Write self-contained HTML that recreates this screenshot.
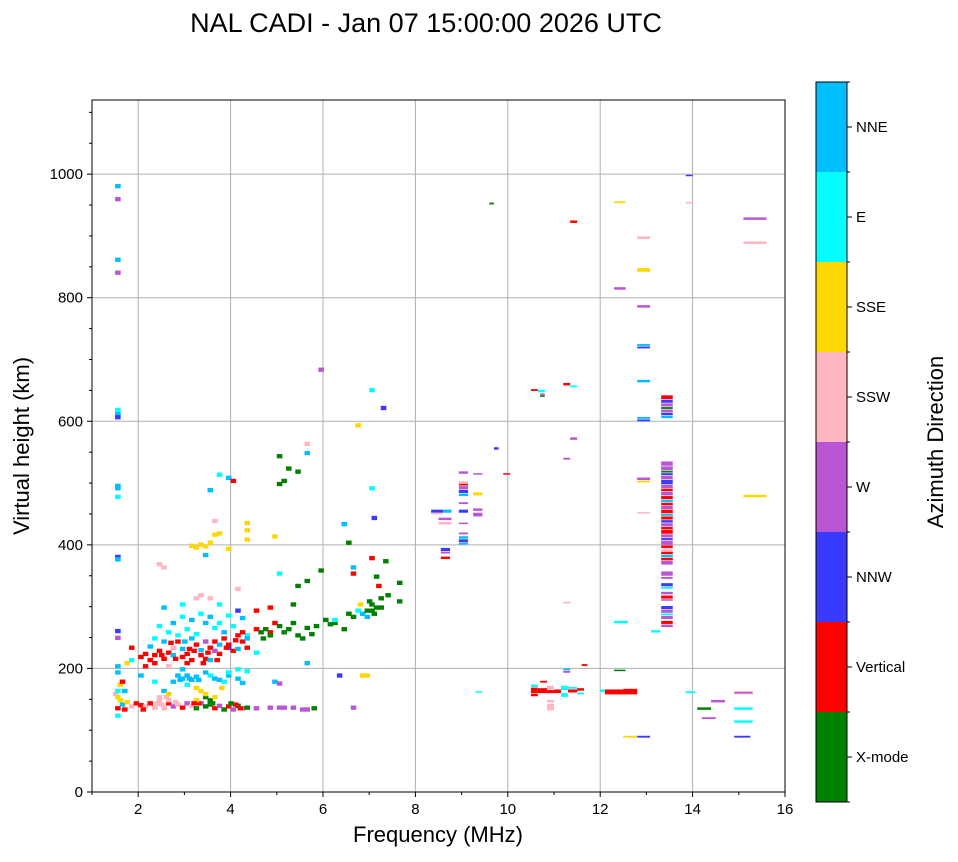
<!DOCTYPE html>
<html><head><meta charset="utf-8"><style>
body{margin:0;background:#fff;width:958px;height:857px;overflow:hidden;font-family:"Liberation Sans",sans-serif}
</style></head><body>
<svg id="chart" width="958" height="857" xmlns="http://www.w3.org/2000/svg" font-family="Liberation Sans, sans-serif">
<text x="426" y="32" font-size="27" text-anchor="middle">NAL CADI - Jan 07 15:00:00 2026 UTC</text>
<g id="grid"></g>
<g id="marks"></g>
<rect x="92" y="100" width="693" height="692" fill="none" stroke="#000" stroke-width="1"/>
<g id="axes"></g>
<text x="438" y="842" font-size="22" text-anchor="middle">Frequency (MHz)</text>
<text x="0" y="0" font-size="22" text-anchor="middle" transform="translate(29,446) rotate(-90)">Virtual height (km)</text>
<g id="cbar"></g>
<text x="0" y="0" font-size="22" text-anchor="middle" transform="translate(943,442) rotate(-90)">Azimuth Direction</text>
</svg>
<script>
const categories=["X-mode","Vertical","NNW","W","SSW","SSE","E","NNE"];
const catColors=["#008000","#ff0000","#3a3aff","#ba55d3","#ffb6c1","#ffd700","#00ffff","#00bfff"];
const xTicks=[2,4,6,8,10,12,14,16];
const yTicks=[0,200,400,600,800,1000];
const xDomain=[1,16], yDomain=[0,1120];
// cluster cells: [freq, height, category]
const lowBand=[[1.5,132,1],[1.6,138,7],[1.7,142,5],[1.8,135,4],[2.0,137,1],[2.1,135,4],[2.2,140,1],[2.3,133,4],[2.4,145,4],[2.45,138,4],[2.5,132,4],[2.6,140,1],[2.7,135,3],[2.8,138,4],[2.9,133,1],[3.0,140,3],[3.1,136,4],[3.2,132,0],[3.3,140,3],[3.4,135,0],[3.5,138,0],[3.6,132,1],[3.7,136,3],[3.8,130,0],[3.9,135,1],[4.0,130,3],[4.1,136,0],[4.2,132,3],[4.3,133,0],[4.5,132,3],[4.8,133,3],[5.0,133,3],[5.1,133,3],[5.3,133,3],[5.5,130,3],[5.6,130,3],[5.75,132,0],[3.5,145,0],[3.4,150,0],[3.25,140,1],[3.2,145,5],[2.6,145,4],[2.55,150,4],[1.5,120,6],[1.55,145,5],[1.45,155,4],[1.9,140,1],[3.95,140,0],[4.05,138,1],[2.35,140,4],[2.75,142,4],[3.15,140,1],[3.55,140,0],[4.15,132,1],[1.65,130,1],[2.05,130,1]];
const midBand=[[1.5,150,5],[1.5,160,6],[1.55,170,5],[1.5,190,7],[1.7,205,5],[1.8,210,6],[2.0,185,7],[2.4,150,4],[2.5,160,7],[2.6,155,5],[2.7,175,7],[2.8,185,7],[2.9,180,7],[3.0,170,6],[3.1,178,7],[3.2,165,5],[3.3,160,5],[3.4,155,5],[3.6,150,5],[3.5,185,6],[3.6,180,7],[3.7,178,7],[3.8,175,6],[3.9,185,7],[4.1,180,7],[4.2,173,7],[3.9,190,6],[4.1,195,6],[4.3,192,6],[3.0,185,7],[3.2,183,7],[2.3,175,6],[2.9,195,7],[3.4,190,7],[4.9,175,7],[5.0,172,3],[1.6,175,1],[1.65,160,7],[3.05,180,7],[3.25,178,7],[2.85,178,7],[3.75,165,5]];
const redBand=[[1.8,230,1],[2.0,215,1],[2.1,220,1],[2.2,210,1],[2.3,218,1],[2.4,225,1],[2.5,212,1],[2.6,222,1],[2.7,230,1],[2.8,240,1],[2.9,215,1],[3.0,220,1],[3.1,210,1],[3.2,235,1],[3.3,218,1],[3.4,212,1],[3.5,230,1],[3.6,240,1],[3.7,220,1],[3.8,245,1],[3.9,235,1],[4.0,225,1],[4.1,250,1],[4.2,240,1],[4.3,230,1],[2.2,232,7],[2.5,240,7],[2.7,218,7],[2.9,228,7],[3.1,245,7],[3.3,226,7],[3.5,210,7],[3.7,235,7],[3.9,230,2],[4.1,228,7],[2.3,245,6],[2.6,255,6],[2.8,250,6],[3.0,260,6],[3.2,252,6],[3.4,270,7],[3.6,262,6],[3.8,255,7],[4.0,265,6],[4.3,250,6],[2.4,265,6],[2.7,270,7],[2.9,280,6],[3.1,275,7],[3.3,285,6],[3.5,280,7],[3.7,270,6],[3.9,282,6],[4.2,278,7],[2.5,295,7],[2.9,300,6],[3.2,310,4],[3.3,315,4],[3.5,310,4],[3.7,300,6],[4.1,290,2],[2.7,230,4],[3.4,240,3],[3.6,225,3],[4.3,245,7],[4.5,260,1],[4.5,290,1],[4.8,255,1],[2.1,200,1],[2.3,205,1],[2.6,200,4],[3.0,205,1],[2.45,218,1],[2.75,212,1],[3.05,228,1],[3.35,205,1],[3.65,210,1],[3.85,230,1],[4.05,242,1],[3.45,222,1],[2.95,240,7],[3.15,225,1],[2.65,238,1],[4.2,255,1]];
const upper=[[2.4,365,4],[2.5,360,4],[3.1,395,5],[3.2,392,5],[3.3,397,5],[3.4,394,5],[3.5,400,5],[3.6,413,5],[3.7,415,5],[3.9,390,5],[4.3,432,5],[4.3,420,5],[4.3,405,5],[3.4,380,7],[3.5,485,7],[3.7,510,6],[3.9,505,7],[3.6,435,4],[4.0,500,1],[4.1,325,4],[4.8,295,1],[4.9,410,5],[6.4,430,7],[6.6,360,7],[6.7,590,5],[7.0,488,6],[7.05,440,2],[7.25,618,2],[7.0,647,6],[5.9,680,3],[5.6,560,4],[5.6,545,7],[6.6,350,1],[7.0,375,1],[6.9,185,5],[6.8,185,5],[6.3,185,2],[6.6,133,3],[5.6,205,7],[4.5,222,6]];
const green=[[4.6,255,0],[4.7,260,0],[4.8,250,0],[4.9,270,1],[5.0,265,0],[5.1,255,0],[5.2,260,0],[5.3,270,0],[5.4,250,0],[5.5,245,0],[5.6,262,0],[5.8,265,0],[6.0,275,0],[6.1,268,0],[6.2,270,0],[6.4,260,0],[6.5,285,0],[6.6,280,0],[6.7,290,6],[6.8,285,7],[6.9,290,0],[7.0,300,0],[7.1,295,0],[7.2,310,0],[7.35,315,0],[7.6,305,0],[7.6,335,0],[7.3,370,0],[7.1,345,0],[6.5,400,0],[5.9,355,0],[5.6,338,0],[5.4,330,0],[5.0,350,6],[5.3,300,0],[5.0,495,0],[5.0,540,0],[5.2,520,0],[5.4,515,0],[5.1,500,0],[6.2,275,6],[6.9,280,7],[7.2,295,0],[7.0,290,0],[5.7,252,0],[6.75,300,5],[7.15,330,1],[6.95,305,0],[7.05,285,0],[4.65,245,0]];
const leftColumn=[[1.5,977,7],[1.5,956,3],[1.5,858,7],[1.5,837,3],[1.5,615,6],[1.5,608,7],[1.5,603,2],[1.5,492,7],[1.5,488,7],[1.5,474,6],[1.5,377,2],[1.5,373,7],[1.5,257,2],[1.5,246,3],[1.5,200,7]];
// spans: [freqStart, freqEnd, heightLow, heightHigh, category]
const spans=[
[13.32,13.57,636,642,1],[13.32,13.57,630,635,2],[13.32,13.57,624,629,3],[13.32,13.57,620,623,0],[13.32,13.57,615,619,3],[13.32,13.57,610,614,2],[13.32,13.57,605,609,7],
[13.32,13.57,528,535,3],[13.32,13.57,521,527,3],[13.32,13.57,517,520,0],[13.32,13.57,513,516,2],[13.32,13.57,506,512,3],[13.32,13.57,498,505,2],[13.32,13.57,492,497,3],[13.32,13.57,487,491,1],[13.32,13.57,480,486,3],[13.32,13.57,474,479,1],[13.32,13.57,469,473,7],[13.32,13.57,464,468,1],[13.32,13.57,458,463,3],[13.32,13.57,451,457,1],[13.32,13.57,447,450,7],[13.32,13.57,441,446,1],[13.32,13.57,436,440,2],[13.32,13.57,430,435,3],[13.32,13.57,425,429,1],[13.32,13.57,418,424,1],[13.32,13.57,412,417,3],[13.32,13.57,408,411,2],[13.32,13.57,400,407,3],[13.32,13.57,395,399,1],[13.32,13.57,390,394,4],[13.32,13.57,385,389,1],[13.32,13.57,380,384,7],[13.32,13.57,375,379,1],[13.32,13.57,368,374,3],
[13.32,13.57,350,357,3],[13.32,13.57,345,348,3],[13.32,13.57,333,338,2],[13.32,13.57,329,332,6],[13.32,13.57,320,324,3],[13.32,13.57,313,318,1],[13.32,13.57,310,312,3],[13.32,13.57,296,301,2],[13.32,13.57,290,295,3],[13.32,13.57,286,289,6],[13.32,13.57,280,285,3],[13.32,13.57,272,277,1],[13.32,13.57,267,271,3],
[12.8,13.08,842,848,5],[12.8,13.08,784,788,3],[12.8,13.08,722,725,7],[12.8,13.08,718,721,2],[12.8,13.08,663,667,7],[12.8,13.08,604,607,7],[12.8,13.08,600,603,2],[12.8,13.08,505,509,3],[12.8,13.08,501,504,5],[12.8,13.08,451,453,4],[12.8,13.08,895,899,4],[12.8,13.08,88,91,2],
[12.3,12.55,813,817,3],[12.3,12.55,953,956,5],[12.3,12.6,273,277,6],[12.5,12.8,88,91,5],[12.1,12.8,158,166,1],[12.5,12.8,163,167,1],[12.0,12.1,162,166,6],[12.3,12.55,196,198,0],
[13.1,13.3,258,262,6],[13.85,14.0,997,999,2],[13.85,14.05,160,163,6],[14.1,14.4,133,137,0],[14.2,14.5,118,121,3],[14.4,14.7,145,149,3],[14.9,15.3,158,163,4],[14.9,15.3,160,162,3],[14.9,15.3,133,137,6],[14.9,15.3,112,116,6],[14.9,15.25,88,91,2],[15.1,15.6,926,930,3],[15.1,15.6,887,891,4],[15.1,15.6,477,481,5],[13.85,14.0,953,955,4],
[8.34,8.6,452,457,2],[8.6,8.78,452,457,7],[8.34,8.6,450,452,4],[8.5,8.78,440,444,3],[8.5,8.78,433,437,4],[8.55,8.75,390,395,2],[8.55,8.75,386,389,3],[8.55,8.75,377,381,1],
[8.94,9.14,515,519,3],[8.94,9.14,500,503,4],[8.94,9.14,496,499,1],[8.94,9.14,490,495,3],[8.94,9.14,484,489,2],[8.94,9.14,479,483,7],[8.94,9.14,466,469,3],[8.94,9.14,452,457,2],[8.94,9.14,434,436,3],[8.94,9.14,417,420,3],[8.94,9.14,410,414,7],[8.94,9.14,404,409,2],[8.94,9.14,401,403,7],
[9.25,9.45,514,516,3],[9.25,9.45,480,485,5],[9.25,9.45,455,459,3],[9.25,9.45,446,452,3],[9.3,9.45,161,163,6],[9.6,9.7,951,954,0],[9.7,9.8,554,558,2],[9.9,10.05,514,516,1],
[10.5,10.65,649,652,1],[10.65,10.8,647,651,6],[10.7,10.8,642,645,3],[10.7,10.8,640,642,0],[11.2,11.35,658,662,1],[11.35,11.5,655,658,6],[11.35,11.5,921,925,1],[11.35,11.5,570,574,3],[11.2,11.35,538,541,3],[11.2,11.35,305,308,4],[11.2,11.35,197,200,7],[11.2,11.35,193,196,3],[11.6,11.72,204,207,1],
[10.5,10.65,170,174,6],[10.5,10.65,160,169,1],[10.5,10.65,155,159,1],[10.65,10.85,160,168,1],[10.85,11.0,166,172,4],[10.85,11.0,160,165,1],[10.85,11.0,145,149,4],[10.85,11.0,132,143,4],[10.7,10.85,177,180,1],[11.0,11.15,160,166,1],[11.15,11.3,165,172,6],[11.15,11.3,154,160,6],[11.3,11.5,167,170,6],[11.3,11.5,161,166,1],[11.5,11.65,164,168,1],[11.5,11.65,158,161,6]
];
const X=f=>92+(f-xDomain[0])/(xDomain[1]-xDomain[0])*693;
const Y=h=>792-(h-yDomain[0])/(yDomain[1]-yDomain[0])*692;
const NS="http://www.w3.org/2000/svg";
function mk(tag,parent,attrs){const e=document.createElementNS(NS,tag);for(const k in attrs)e.setAttribute(k,attrs[k]);parent.appendChild(e);return e;}
const grid=document.getElementById('grid'),axes=document.getElementById('axes'),marks=document.getElementById('marks'),cbar=document.getElementById('cbar');
xTicks.forEach(t=>{
 if(t<16){const l=mk('line',grid,{x1:X(t),x2:X(t),y1:100,y2:792,stroke:'#b0b0b0','stroke-width':1});
 
 }
 mk('line',axes,{x1:X(t),x2:X(t),y1:792,y2:797,stroke:'#000'});
 const tx=mk('text',axes,{x:X(t),y:814,'font-size':15,'text-anchor':'middle'});tx.textContent=t;
 
 
});
for(let t=1;t<16;t+=2)mk('line',axes,{x1:X(t),x2:X(t),y1:792,y2:795,stroke:'#000'});
yTicks.forEach(t=>{
 if(t>0){const l=mk('line',grid,{x1:92,x2:785,y1:Y(t),y2:Y(t),stroke:'#b0b0b0','stroke-width':1});
 
 }
 mk('line',axes,{x1:87,x2:92,y1:Y(t),y2:Y(t),stroke:'#000'});
 const tx=mk('text',axes,{x:83,y:Y(t)+5,'font-size':15,'text-anchor':'end'});tx.textContent=t;
 
 
});
for(let t=50;t<1120;t+=50)if(t%200)mk('line',axes,{x1:89,x2:92,y1:Y(t),y2:Y(t),stroke:'#000'});
function cell(f1,f2,h1,h2,c){
 const x1=X(f1),x2=X(f2),y1=Y(h2),y2=Y(h1);
 const r=mk('rect',marks,{x:x1,y:y1,width:Math.max(1.5,x2-x1),height:Math.max(1.5,y2-y1),fill:catColors[c]});
 
 
}
[lowBand,midBand,redBand,upper,green,leftColumn].forEach(arr=>arr.forEach(p=>cell(p[0],p[0]+0.12,p[1],p[1]+7,p[2])));
spans.forEach(s=>cell(s[0],s[1],s[2],s[3],s[4]));
// colorbar
const cbTop=82,cbH=720,seg=cbH/categories.length;
categories.forEach((c,i)=>{
 const y=cbTop+cbH-(i+1)*seg;
 const r=mk('rect',cbar,{x:816,y:y,width:31,height:seg,fill:catColors[i]});
 
 
 mk('line',cbar,{x1:847,x2:852,y1:y+seg/2,y2:y+seg/2,stroke:'#000'});
 mk('line',cbar,{x1:847,x2:850,y1:y,y2:y,stroke:'#000'});
 const t=mk('text',cbar,{x:856,y:y+seg/2+5,'font-size':15});t.textContent=c;
 
 
});
mk('line',cbar,{x1:847,x2:850,y1:cbTop+cbH,y2:cbTop+cbH,stroke:'#000'});
mk('rect',cbar,{x:816,y:cbTop,width:31,height:cbH,fill:'none',stroke:'#000','stroke-width':1});
</script>
</body></html>
